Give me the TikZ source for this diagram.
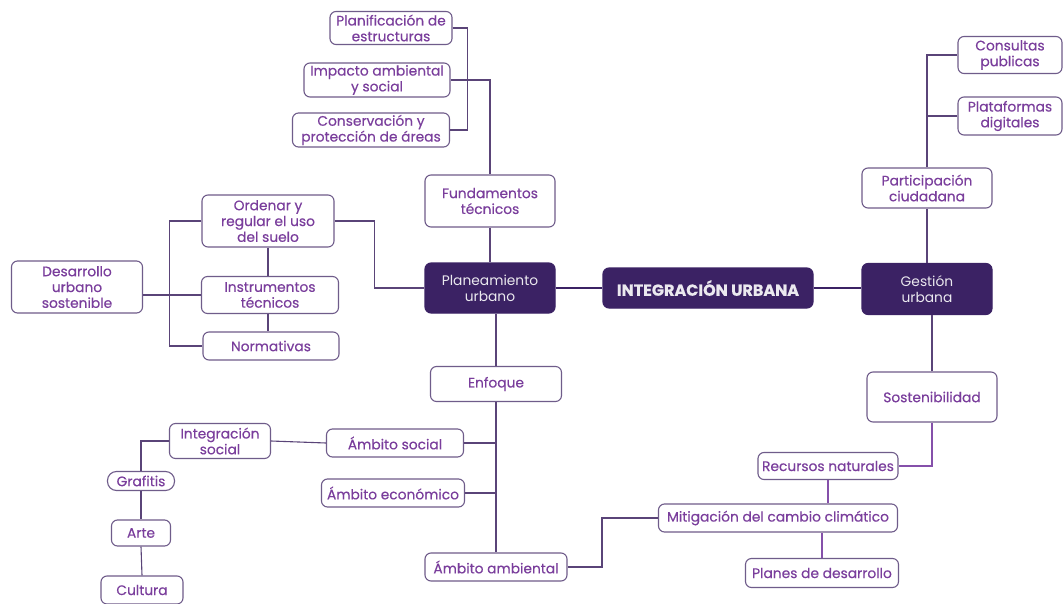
\documentclass[tikz,border=0pt]{standalone}
\usepackage{fontspec}
\setmainfont{Poppins}[FakeBold=0.35]
\newfontfamily\plainpop{Poppins}
\definecolor{txtc}{HTML}{7A3E9C}
\definecolor{bordc}{HTML}{6F5C8A}
\definecolor{darkc}{HTML}{3B2264}
\definecolor{linec}{HTML}{5A4478}
\definecolor{linep}{HTML}{8550AA}
\begin{document}
\begin{tikzpicture}[x=1pt,y=-1pt,
  box/.style={draw=bordc, line width=1.1pt, rounded corners=6pt, fill=white,
    text=txtc, align=center, inner sep=0pt, font=\fontsize{13.8}{15.8}\selectfont},
  dbox/.style={draw=darkc, line width=1.1pt, rounded corners=6pt, fill=darkc,
    text=white!90!darkc, align=center, inner sep=0pt, font=\plainpop\fontsize{13.8}{15.8}\selectfont},
  conn/.style={draw=linec, line width=1.1pt},
  connp/.style={draw=linep, line width=1.1pt},
  thick conn/.style={draw=darkc, line width=2.6pt}]
\path[fill=white] (0,0) rectangle (1063,604);
\useasboundingbox (0,0) rectangle (1063,604);

% top-left branch
\node[box, minimum width=122pt, minimum height=33pt] (plan) at (391,28) {Planificación de\\estructuras};
\node[box, minimum width=146pt, minimum height=34pt] (imp) at (377,80) {Impacto ambiental\\y social};
\node[box, minimum width=157pt, minimum height=34pt] (cons) at (371,130) {Conservación y\\protección de áreas};
\node[box, minimum width=130pt, minimum height=52pt] (fund) at (490,201) {Fundamentos\\técnicos};

% left branch
\node[box, minimum width=132pt, minimum height=52pt] (ord) at (268,221) {Ordenar y\\regular el uso\\del suelo};
\node[box, minimum width=131pt, minimum height=52pt] (des) at (77,287) {Desarrollo\\urbano\\sostenible};
\node[box, minimum width=137pt, minimum height=37pt] (ins) at (270,295) {Instrumentos\\técnicos};
\node[box, minimum width=136pt, minimum height=28pt] (norm) at (271,346) {Normativas};

% centre
\node[dbox, minimum width=130pt, minimum height=50pt] (planu) at (490,288) {Planeamiento\\urbano};
\node[dbox, minimum width=210pt, minimum height=40pt, font=\bfseries\fontsize{16}{18}\selectfont] (integ) at (708,288) {INTEGRACIÓN URBANA};
\node[dbox, minimum width=130pt, minimum height=51pt] (gest) at (927,289) {Gestión\\urbana};

% right branch
\node[box, minimum width=130pt, minimum height=40pt] (part) at (927,188) {Participación\\ciudadana};
\node[box, minimum width=104pt, minimum height=37pt] (cpub) at (1010,55) {Consultas\\publicas};
\node[box, minimum width=104pt, minimum height=38pt] (plat) at (1010,116) {Plataformas\\digitales};
\node[box, minimum width=130pt, minimum height=50pt] (sost) at (932,397) {Sostenibilidad};
\node[box, minimum width=140pt, minimum height=27pt] (rec) at (828,466) {Recursos naturales};
\node[box, minimum width=239pt, minimum height=28pt] (mit) at (778,518) {Mitigación del cambio climático};
\node[box, minimum width=153pt, minimum height=29pt] (planes) at (822,573) {Planes de desarrollo};

% bottom branch
\node[box, minimum width=131pt, minimum height=35pt] (enf) at (496,384) {Enfoque};
\node[box, minimum width=137pt, minimum height=28pt] (asoc) at (395,443) {Ámbito social};
\node[box, minimum width=143pt, minimum height=28pt] (aeco) at (393,493) {Ámbito económico};
\node[box, minimum width=142pt, minimum height=28pt] (aamb) at (496,567) {Ámbito ambiental};
\node[box, minimum width=101pt, minimum height=35pt] (intsoc) at (220,441) {Integración\\social};
\node[box, minimum width=67pt, minimum height=19pt, rounded corners=9pt] (graf) at (141,481) {Grafitis};
\node[box, minimum width=59pt, minimum height=26pt] (arte) at (141,533) {Arte};
\node[box, minimum width=82pt, minimum height=28pt] (cult) at (142,590) {Cultura};

% connectors
\draw[conn] (plan.east) -- ++(15,0) |- (cons.east);
\draw[conn] (imp.east) -| (fund.north);
\draw[conn] (fund.south) -- (planu.north);
\draw[thick conn] (planu.east) -- (integ.west);
\draw[thick conn] (integ.east) -- (integ.east -| gest.west);
\draw[conn] (ord.east) -- ++(40,0) |- (planu.west);
\draw[conn] (ord.west) -- ++(-32,0) |- (norm.west);
\draw[conn] (ins.west) -- (ins.west -| des.east);
\draw[conn] (ord.south) -- (ord.south |- ins.north);
\draw[conn] (ins.south -| ord.south) -- (ord.south |- norm.north);
\draw[conn] (part.south) -- (gest.north);
\draw[conn] (part.north) |- (cpub.west);
\draw[conn] (plat.west) -- (plat.west -| part.north);
\draw[conn] (sost.north) -- (sost.north |- gest.south);
\draw[connp] (sost.south) |- (rec.east);
\draw[connp] (rec.south) -- (rec.south |- mit.north);
\draw[connp] (planes.north) -- (planes.north |- mit.south);
\draw[conn] (mit.west) -- ++(-56,0) |- (aamb.east);
\draw[conn] (enf.north) -- (enf.north |- planu.south);
\draw[conn] (enf.south) -- (aamb.north);
\draw[conn] (asoc.east) -- (asoc.east -| enf.south);
\draw[conn] (aeco.east) -- (aeco.east -| enf.south);
\draw[conn] (intsoc.east) -- (asoc.west);
\draw[conn] (intsoc.west) -| (graf.north);
\draw[conn] (graf.south) -- (arte.north);
\draw[conn] (arte.south) -- (cult.north);
\end{tikzpicture}
\end{document}
